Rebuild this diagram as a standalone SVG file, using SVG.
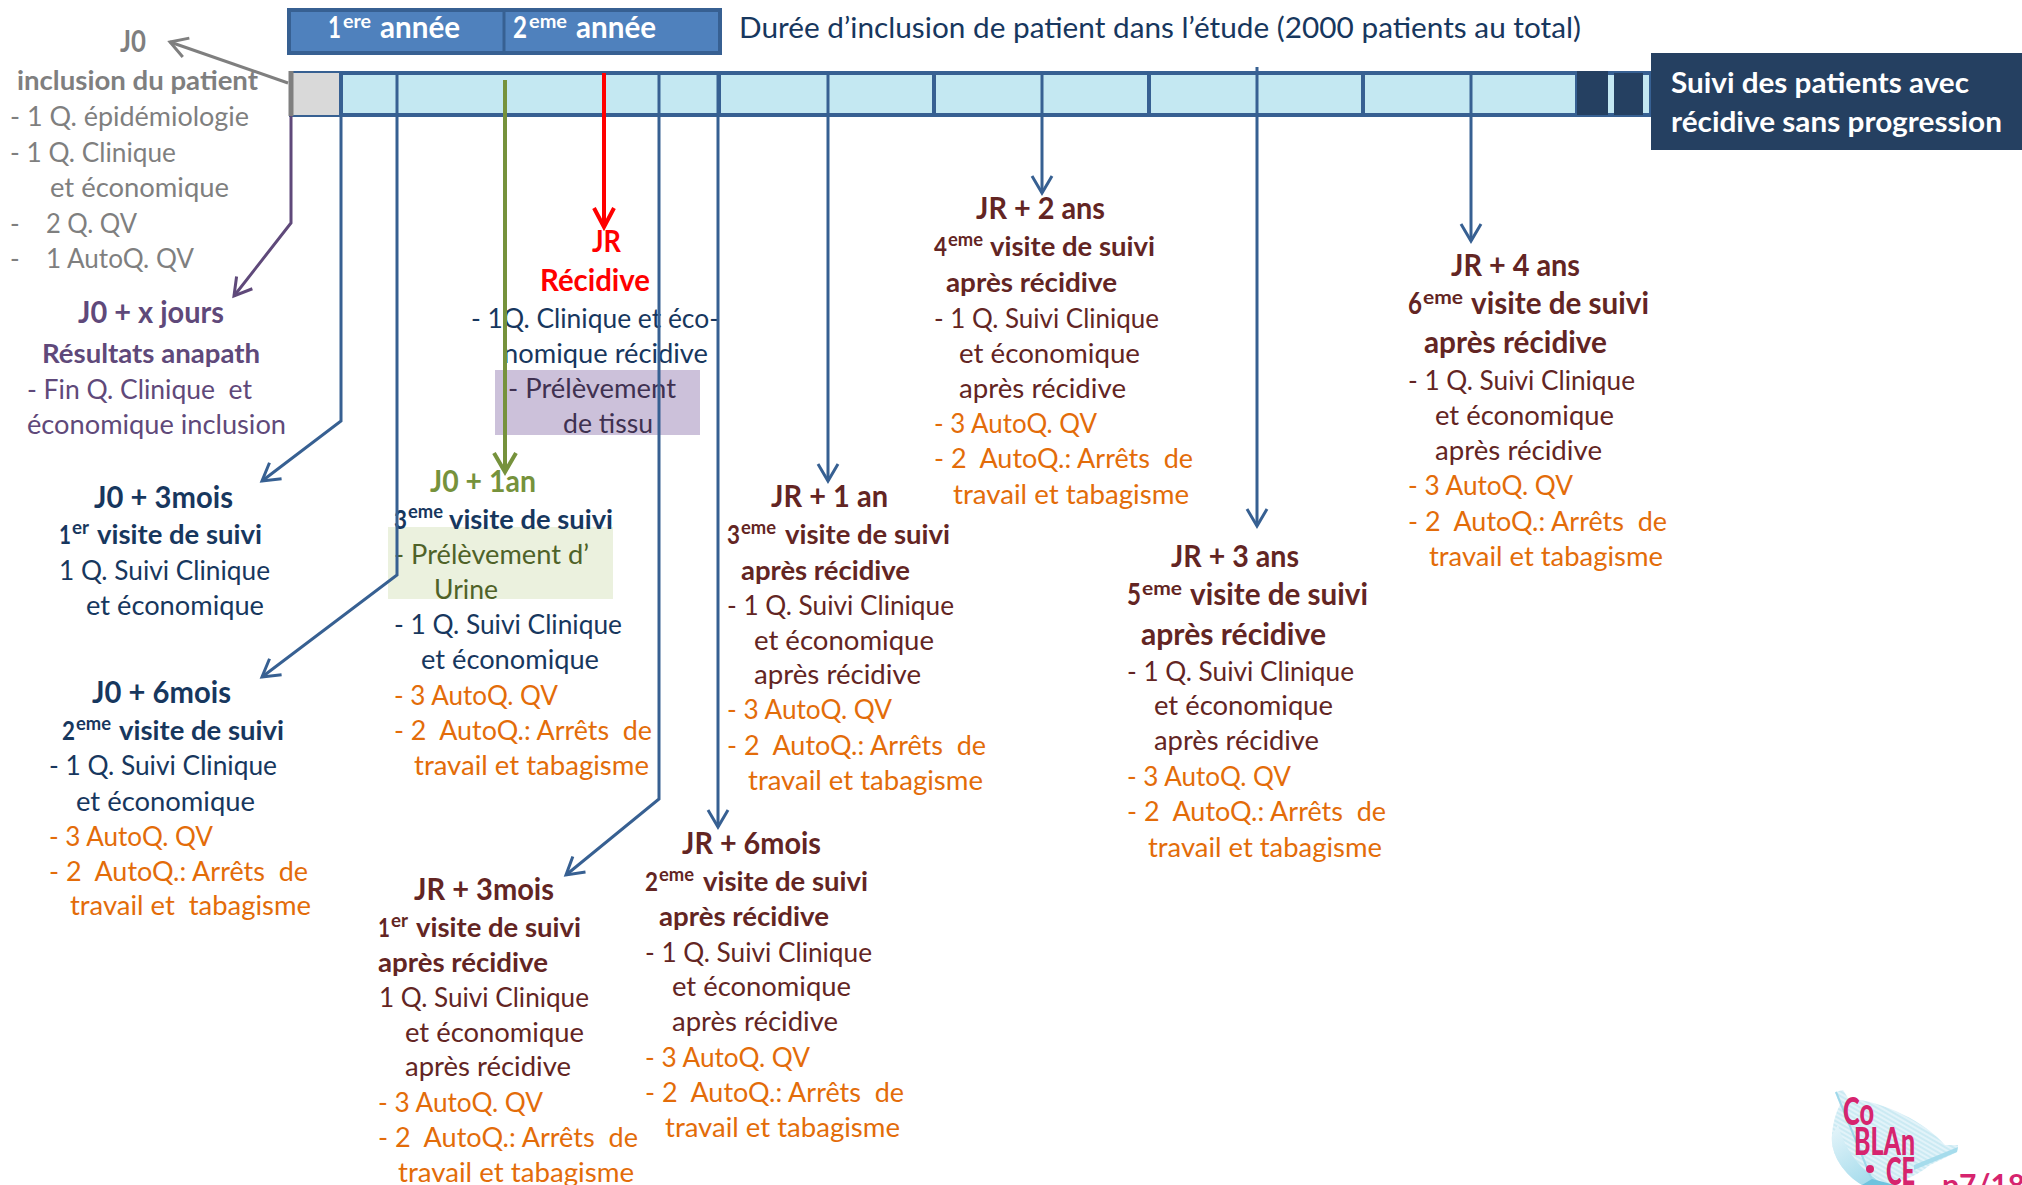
<svg xmlns="http://www.w3.org/2000/svg" width="2022" height="1185" viewBox="0 0 2022 1185">
<style>
text{font-family:Lato,"Open Sans","Liberation Sans",sans-serif;font-size:26px;white-space:pre;transform:translateY(1px)}
.b{font-weight:700}
.t{font-size:31px;font-weight:700;transform:translateY(0)}
.s{font-size:18px}
.sb{font-size:18px;font-weight:700}
.gy{fill:#7f7f7f}.pu{fill:#5f497a}.nv{fill:#17375e}.mr{fill:#632523}.or{fill:#e36c09}.rd{fill:#ff0000}.gn{fill:#76923c}.dg{fill:#4f6228}.dp{fill:#3f3151}.wh{fill:#ffffff}
.ln{fill:none;stroke:#376092;stroke-width:3}
.seg{fill:none;stroke:#376092;stroke-width:4}
.lg{font-size:38px;font-weight:900;fill:#d6246e;transform:none}
</style>
<defs>
<marker id="mb" markerUnits="userSpaceOnUse" viewBox="-20 -14 24 28" refX="0" refY="0" markerWidth="24" markerHeight="28" orient="auto"><path d="M-17,-10 L0,0 L-17,10" fill="none" stroke="#376092" stroke-width="3"/></marker>
<marker id="mr" markerUnits="userSpaceOnUse" viewBox="-20 -14 24 28" refX="0" refY="0" markerWidth="24" markerHeight="28" orient="auto"><path d="M-19,-10 L0,0 L-19,10" fill="none" stroke="#ff0000" stroke-width="4"/></marker>
<marker id="mg" markerUnits="userSpaceOnUse" viewBox="-20 -14 24 28" refX="0" refY="0" markerWidth="24" markerHeight="28" orient="auto"><path d="M-19,-11 L0,0 L-19,11" fill="none" stroke="#76923c" stroke-width="4"/></marker>
<marker id="my" markerUnits="userSpaceOnUse" viewBox="-20 -14 24 28" refX="0" refY="0" markerWidth="24" markerHeight="28" orient="auto"><path d="M-17,-10 L0,0 L-17,10" fill="none" stroke="#7f7f7f" stroke-width="3"/></marker>
<marker id="mp" markerUnits="userSpaceOnUse" viewBox="-20 -14 24 28" refX="0" refY="0" markerWidth="24" markerHeight="28" orient="auto"><path d="M-17,-10 L0,0 L-17,10" fill="none" stroke="#5f497a" stroke-width="3"/></marker>
<linearGradient id="lg" x1="0" y1="0" x2="0.6" y2="1"><stop offset="0" stop-color="#e6f5fa"/><stop offset="1" stop-color="#a6dcec"/></linearGradient>
<pattern id="hatch" width="4" height="4" patternUnits="userSpaceOnUse" patternTransform="rotate(30)"><rect width="4" height="4" fill="#e2f3f9"/><line x1="0" y1="1" x2="4" y2="1" stroke="#b5e1ee" stroke-width="1"/></pattern>
</defs>
<rect width="2022" height="1185" fill="#ffffff"/>

<g id="annees">
<rect x="289" y="10" width="431" height="43" fill="#4f81bd" stroke="#376092" stroke-width="4"/>
<line x1="504" y1="9" x2="504" y2="54" stroke="#376092" stroke-width="3"/>
<text class="t wh" x="328" y="38" textLength="13" lengthAdjust="spacingAndGlyphs">1</text>
<text class="sb wh" x="343" y="27" textLength="28" lengthAdjust="spacingAndGlyphs">ere</text>
<text class="t wh" x="380" y="38" textLength="80" lengthAdjust="spacingAndGlyphs">année</text>
<text class="t wh" x="513" y="38" textLength="14" lengthAdjust="spacingAndGlyphs">2</text>
<text class="sb wh" x="529" y="27" textLength="38" lengthAdjust="spacingAndGlyphs">eme</text>
<text class="t wh" x="576" y="38" textLength="80" lengthAdjust="spacingAndGlyphs">année</text>
</g>
<g id="titre"><text class="nv" x="739" y="37" style="font-size:28px" textLength="842" lengthAdjust="spacingAndGlyphs">Durée d’inclusion de patient dans l’étude (2000 patients au total)</text></g>

<g id="frise">
<rect x="291" y="73" width="1360" height="42" fill="#c4e8f2" stroke="#376092" stroke-width="4"/>
<rect x="291" y="73" width="50" height="42" fill="#d9d9d9"/>
<line x1="291" y1="71" x2="291" y2="116" stroke="#7f7f7f" stroke-width="5"/>
<path class="seg" d="M341,71V116M719,71V116M934,71V116M1149,71V116M1363,71V116M1577,71V116"/>
<rect x="1577" y="71" width="31" height="44" fill="#254061"/>
<rect x="1614" y="73" width="29" height="42" fill="#254061"/>
</g>
<g id="suivi">
<rect x="1651" y="53" width="371" height="97" fill="#254061"/>
<text class="b wh" x="1671" y="92" style="font-size:28px" textLength="298" lengthAdjust="spacingAndGlyphs">Suivi des patients avec</text>
<text class="b wh" x="1671" y="131" style="font-size:28px" textLength="331" lengthAdjust="spacingAndGlyphs">récidive sans progression</text>
</g>

<g id="j0">
<text class="t gy" x="120" y="52" textLength="26" lengthAdjust="spacingAndGlyphs">J0</text>
<text class="b gy" x="17" y="89" style="font-size:27px" textLength="241" lengthAdjust="spacingAndGlyphs">inclusion du patient</text>
<text class="gy" x="10" y="125" textLength="239" lengthAdjust="spacingAndGlyphs">- 1 Q. épidémiologie</text>
<text class="gy" x="10" y="161" textLength="166" lengthAdjust="spacingAndGlyphs">- 1 Q. Clinique</text>
<text class="gy" x="50" y="196" textLength="179" lengthAdjust="spacingAndGlyphs">et économique</text>
<text class="gy" x="10" y="232">-</text><text class="gy" x="46" y="232" textLength="91" lengthAdjust="spacingAndGlyphs">2 Q. QV</text>
<text class="gy" x="10" y="267">-</text><text class="gy" x="46" y="267" textLength="148" lengthAdjust="spacingAndGlyphs">1 AutoQ. QV</text>
</g>
<g id="j0-x-jours">
<text class="t pu" x="78" y="323" textLength="146" lengthAdjust="spacingAndGlyphs">J0 + x jours</text>
<text class="b pu" x="42" y="362" style="font-size:27px" textLength="218" lengthAdjust="spacingAndGlyphs">Résultats anapath</text>
<text class="pu" x="27" y="398" textLength="225" lengthAdjust="spacingAndGlyphs">- Fin Q. Clinique  et</text>
<text class="pu" x="27" y="433" textLength="259" lengthAdjust="spacingAndGlyphs">économique inclusion</text>
</g>
<g id="recidive">
<rect x="495" y="370" width="205" height="65" fill="#ccc1da"/>
<text class="t rd" x="592" y="252" textLength="29" lengthAdjust="spacingAndGlyphs">JR</text>
<text class="t rd" x="540" y="291" textLength="110" lengthAdjust="spacingAndGlyphs">Récidive</text>
<text class="nv" x="471" y="327" textLength="248" lengthAdjust="spacingAndGlyphs">- 1Q. Clinique et éco-</text>
<text class="nv" x="503" y="362" textLength="205" lengthAdjust="spacingAndGlyphs">nomique récidive</text>
<text class="dp" x="508" y="397" textLength="168" lengthAdjust="spacingAndGlyphs">- Prélèvement</text>
<text class="dp" x="563" y="432" textLength="90" lengthAdjust="spacingAndGlyphs">de tissu</text>
</g>
<g id="j0-3mois">
<text class="t nv" x="94" y="508" textLength="139" lengthAdjust="spacingAndGlyphs">J0 + 3mois</text>
<text class="b nv" x="59" y="543" textLength="12" lengthAdjust="spacingAndGlyphs">1</text><text class="sb nv" x="72" y="533" textLength="17" lengthAdjust="spacingAndGlyphs">er</text><text class="b nv" x="97" y="543" textLength="165" lengthAdjust="spacingAndGlyphs">visite de suivi</text>
<text class="nv" x="59" y="579" textLength="211" lengthAdjust="spacingAndGlyphs">1 Q. Suivi Clinique</text>
<text class="nv" x="86" y="614" textLength="178" lengthAdjust="spacingAndGlyphs">et économique</text>
</g>
<g id="j0-6mois">
<text class="t nv" x="92" y="703" textLength="139" lengthAdjust="spacingAndGlyphs">J0 + 6mois</text>
<text class="b nv" x="62" y="739" textLength="13" lengthAdjust="spacingAndGlyphs">2</text><text class="sb nv" x="76" y="729" textLength="35" lengthAdjust="spacingAndGlyphs">eme</text><text class="b nv" x="119" y="739" textLength="165" lengthAdjust="spacingAndGlyphs">visite de suivi</text>
<text class="nv" x="49" y="774" textLength="228" lengthAdjust="spacingAndGlyphs">- 1 Q. Suivi Clinique</text>
<text class="nv" x="76" y="810" textLength="179" lengthAdjust="spacingAndGlyphs">et économique</text>
<text class="or" x="49" y="845" textLength="164" lengthAdjust="spacingAndGlyphs">- 3 AutoQ. QV</text>
<text class="or" x="49" y="880" textLength="259" lengthAdjust="spacingAndGlyphs">- 2  AutoQ.: Arrêts  de</text>
<text class="or" x="70" y="914" textLength="241" lengthAdjust="spacingAndGlyphs">travail et  tabagisme</text>
</g>
<g id="j0-1an">
<rect x="388" y="527" width="225" height="72" fill="#ebf1de"/>
<text class="t gn" x="430" y="492" textLength="106" lengthAdjust="spacingAndGlyphs">J0 + 1an</text>
<text class="b nv" x="394" y="528" textLength="13" lengthAdjust="spacingAndGlyphs">3</text><text class="sb nv" x="408" y="517" textLength="35" lengthAdjust="spacingAndGlyphs">eme</text><text class="b nv" x="449" y="528" textLength="164" lengthAdjust="spacingAndGlyphs">visite de suivi</text>
<text class="dg" x="394" y="563" textLength="195" lengthAdjust="spacingAndGlyphs">- Prélèvement d’</text>
<text class="dg" x="434" y="598" textLength="64" lengthAdjust="spacingAndGlyphs">Urine</text>
<text class="nv" x="394" y="633" textLength="228" lengthAdjust="spacingAndGlyphs">- 1 Q. Suivi Clinique</text>
<text class="nv" x="421" y="668" textLength="178" lengthAdjust="spacingAndGlyphs">et économique</text>
<text class="or" x="394" y="704" textLength="164" lengthAdjust="spacingAndGlyphs">- 3 AutoQ. QV</text>
<text class="or" x="394" y="739" textLength="258" lengthAdjust="spacingAndGlyphs">- 2  AutoQ.: Arrêts  de</text>
<text class="or" x="414" y="774" textLength="235" lengthAdjust="spacingAndGlyphs">travail et tabagisme</text>
</g>
<g id="jr-3mois">
<text class="t mr" x="414" y="900" textLength="140" lengthAdjust="spacingAndGlyphs">JR + 3mois</text>
<text class="b mr" x="378" y="936" textLength="12" lengthAdjust="spacingAndGlyphs">1</text><text class="sb mr" x="391" y="926" textLength="17" lengthAdjust="spacingAndGlyphs">er</text><text class="b mr" x="416" y="936" textLength="165" lengthAdjust="spacingAndGlyphs">visite de suivi</text>
<text class="b mr" x="378" y="971" textLength="170" lengthAdjust="spacingAndGlyphs">après récidive</text>
<text class="mr" x="379" y="1006" textLength="210" lengthAdjust="spacingAndGlyphs">1 Q. Suivi Clinique</text>
<text class="mr" x="405" y="1041" textLength="179" lengthAdjust="spacingAndGlyphs">et économique</text>
<text class="mr" x="405" y="1075" textLength="166" lengthAdjust="spacingAndGlyphs">après récidive</text>
<text class="or" x="378" y="1111" textLength="165" lengthAdjust="spacingAndGlyphs">- 3 AutoQ. QV</text>
<text class="or" x="378" y="1146" textLength="260" lengthAdjust="spacingAndGlyphs">- 2  AutoQ.: Arrêts  de</text>
<text class="or" x="398" y="1181" textLength="236" lengthAdjust="spacingAndGlyphs">travail et tabagisme</text>
</g>
<g id="jr-6mois">
<text class="t mr" x="682" y="854" textLength="139" lengthAdjust="spacingAndGlyphs">JR + 6mois</text>
<text class="b mr" x="645" y="890" textLength="13" lengthAdjust="spacingAndGlyphs">2</text><text class="sb mr" x="659" y="880" textLength="35" lengthAdjust="spacingAndGlyphs">eme</text><text class="b mr" x="703" y="890" textLength="165" lengthAdjust="spacingAndGlyphs">visite de suivi</text>
<text class="b mr" x="659" y="925" textLength="170" lengthAdjust="spacingAndGlyphs">après récidive</text>
<text class="mr" x="645" y="961" textLength="227" lengthAdjust="spacingAndGlyphs">- 1 Q. Suivi Clinique</text>
<text class="mr" x="672" y="995" textLength="179" lengthAdjust="spacingAndGlyphs">et économique</text>
<text class="mr" x="672" y="1030" textLength="166" lengthAdjust="spacingAndGlyphs">après récidive</text>
<text class="or" x="645" y="1066" textLength="165" lengthAdjust="spacingAndGlyphs">- 3 AutoQ. QV</text>
<text class="or" x="645" y="1101" textLength="259" lengthAdjust="spacingAndGlyphs">- 2  AutoQ.: Arrêts  de</text>
<text class="or" x="665" y="1136" textLength="235" lengthAdjust="spacingAndGlyphs">travail et tabagisme</text>
</g>
<g id="jr-1an">
<text class="t mr" x="771" y="507" textLength="117" lengthAdjust="spacingAndGlyphs">JR + 1 an</text>
<text class="b mr" x="727" y="543" textLength="13" lengthAdjust="spacingAndGlyphs">3</text><text class="sb mr" x="741" y="533" textLength="35" lengthAdjust="spacingAndGlyphs">eme</text><text class="b mr" x="785" y="543" textLength="165" lengthAdjust="spacingAndGlyphs">visite de suivi</text>
<text class="b mr" x="741" y="579" textLength="169" lengthAdjust="spacingAndGlyphs">après récidive</text>
<text class="mr" x="727" y="614" textLength="227" lengthAdjust="spacingAndGlyphs">- 1 Q. Suivi Clinique</text>
<text class="mr" x="754" y="649" textLength="180" lengthAdjust="spacingAndGlyphs">et économique</text>
<text class="mr" x="754" y="683" textLength="167" lengthAdjust="spacingAndGlyphs">après récidive</text>
<text class="or" x="727" y="718" textLength="165" lengthAdjust="spacingAndGlyphs">- 3 AutoQ. QV</text>
<text class="or" x="727" y="754" textLength="259" lengthAdjust="spacingAndGlyphs">- 2  AutoQ.: Arrêts  de</text>
<text class="or" x="748" y="789" textLength="235" lengthAdjust="spacingAndGlyphs">travail et tabagisme</text>
</g>
<g id="jr-2ans">
<text class="t mr" x="976" y="219" textLength="129" lengthAdjust="spacingAndGlyphs">JR + 2 ans</text>
<text class="b mr" x="934" y="255" textLength="13" lengthAdjust="spacingAndGlyphs">4</text><text class="sb mr" x="948" y="245" textLength="35" lengthAdjust="spacingAndGlyphs">eme</text><text class="b mr" x="990" y="255" textLength="165" lengthAdjust="spacingAndGlyphs">visite de suivi</text>
<text class="b mr" x="946" y="291" textLength="171" lengthAdjust="spacingAndGlyphs">après récidive</text>
<text class="mr" x="934" y="327" textLength="225" lengthAdjust="spacingAndGlyphs">- 1 Q. Suivi Clinique</text>
<text class="mr" x="959" y="362" textLength="181" lengthAdjust="spacingAndGlyphs">et économique</text>
<text class="mr" x="959" y="397" textLength="167" lengthAdjust="spacingAndGlyphs">après récidive</text>
<text class="or" x="934" y="432" textLength="163" lengthAdjust="spacingAndGlyphs">- 3 AutoQ. QV</text>
<text class="or" x="934" y="467" textLength="259" lengthAdjust="spacingAndGlyphs">- 2  AutoQ.: Arrêts  de</text>
<text class="or" x="953" y="503" textLength="236" lengthAdjust="spacingAndGlyphs">travail et tabagisme</text>
</g>
<g id="jr-3ans">
<text class="t mr" x="1171" y="567" textLength="128" lengthAdjust="spacingAndGlyphs">JR + 3 ans</text>
<text class="t mr" x="1127" y="605" textLength="14" lengthAdjust="spacingAndGlyphs">5</text><text class="sb mr" x="1142" y="594" textLength="40" lengthAdjust="spacingAndGlyphs">eme</text><text class="t mr" x="1190" y="605" textLength="178" lengthAdjust="spacingAndGlyphs">visite de suivi</text>
<text class="t mr" x="1141" y="645" textLength="185" lengthAdjust="spacingAndGlyphs">après récidive</text>
<text class="mr" x="1127" y="680" textLength="227" lengthAdjust="spacingAndGlyphs">- 1 Q. Suivi Clinique</text>
<text class="mr" x="1154" y="714" textLength="179" lengthAdjust="spacingAndGlyphs">et économique</text>
<text class="mr" x="1154" y="749" textLength="165" lengthAdjust="spacingAndGlyphs">après récidive</text>
<text class="or" x="1127" y="785" textLength="164" lengthAdjust="spacingAndGlyphs">- 3 AutoQ. QV</text>
<text class="or" x="1127" y="820" textLength="259" lengthAdjust="spacingAndGlyphs">- 2  AutoQ.: Arrêts  de</text>
<text class="or" x="1148" y="856" textLength="234" lengthAdjust="spacingAndGlyphs">travail et tabagisme</text>
</g>
<g id="jr-4ans">
<text class="t mr" x="1451" y="276" textLength="129" lengthAdjust="spacingAndGlyphs">JR + 4 ans</text>
<text class="t mr" x="1408" y="314" textLength="14" lengthAdjust="spacingAndGlyphs">6</text><text class="sb mr" x="1423" y="303" textLength="40" lengthAdjust="spacingAndGlyphs">eme</text><text class="t mr" x="1471" y="314" textLength="178" lengthAdjust="spacingAndGlyphs">visite de suivi</text>
<text class="t mr" x="1424" y="353" textLength="183" lengthAdjust="spacingAndGlyphs">après récidive</text>
<text class="mr" x="1408" y="389" textLength="227" lengthAdjust="spacingAndGlyphs">- 1 Q. Suivi Clinique</text>
<text class="mr" x="1435" y="424" textLength="179" lengthAdjust="spacingAndGlyphs">et économique</text>
<text class="mr" x="1435" y="459" textLength="167" lengthAdjust="spacingAndGlyphs">après récidive</text>
<text class="or" x="1408" y="494" textLength="165" lengthAdjust="spacingAndGlyphs">- 3 AutoQ. QV</text>
<text class="or" x="1408" y="530" textLength="259" lengthAdjust="spacingAndGlyphs">- 2  AutoQ.: Arrêts  de</text>
<text class="or" x="1429" y="565" textLength="234" lengthAdjust="spacingAndGlyphs">travail et tabagisme</text>
</g>

<g id="connecteurs">
<polyline points="288,83 170,42" fill="none" stroke="#7f7f7f" stroke-width="3" marker-end="url(#my)"/>
<polyline points="291,116 291,223 234,296" fill="none" stroke="#5f497a" stroke-width="3" marker-end="url(#mp)"/>
<polyline class="ln" points="341,116 341,421 262,481" marker-end="url(#mb)"/>
<polyline class="ln" points="397,73 397,575 262,677" marker-end="url(#mb)"/>
<polyline points="604,73 604,227" fill="none" stroke="#ff0000" stroke-width="4" marker-end="url(#mr)"/>
<polyline points="505,80 505,472" fill="none" stroke="#76923c" stroke-width="4" marker-end="url(#mg)"/>
<polyline class="ln" points="659,73 659,799 566,875" marker-end="url(#mb)"/>
<polyline class="ln" points="718,73 718,827" marker-end="url(#mb)"/>
<polyline class="ln" points="828,73 828,481" marker-end="url(#mb)"/>
<polyline class="ln" points="1042,73 1042,193" marker-end="url(#mb)"/>
<polyline class="ln" points="1257,67 1257,526" marker-end="url(#mb)"/>
<polyline class="ln" points="1471,73 1471,241" marker-end="url(#mb)"/>
</g>

<g id="logo">
<path d="M1835,1092 L1843,1090 L1848,1098 C1885,1102 1925,1122 1945,1145 L1958,1145 L1957,1152 L1930,1165 C1915,1178 1895,1185 1870,1185 L1862,1185 C1845,1175 1830,1155 1832,1135 C1833,1122 1836,1112 1840,1105 Z" fill="url(#hatch)"/>
<path d="M1832,1135 C1830,1155 1845,1175 1862,1185 L1885,1185 C1860,1170 1845,1150 1838,1125 Z" fill="url(#lg)"/>
<path d="M1836,1092 L1872,1180" fill="none" stroke="#9fd8ea" stroke-width="2"/>
<path d="M1914,1165 L1958,1147 L1957,1152 L1914,1170 Z" fill="#a6dcec"/>
<path d="M1862,1185 L1872,1179 L1895,1185 Z" fill="#6fc3de"/>
<text class="lg" x="1843" y="1125" textLength="31" lengthAdjust="spacingAndGlyphs">Co</text>
<text class="lg" x="1854" y="1155" textLength="61" lengthAdjust="spacingAndGlyphs">BLAn</text>
<text class="lg" x="1886" y="1185" textLength="29" lengthAdjust="spacingAndGlyphs">CE</text>
<circle cx="1870" cy="1169" r="4" fill="#d6246e"/>
</g>
<text id="page" x="1942" y="1196" class="b" style="font-size:30px;fill:#d6246e;transform:none">p7/18</text>
</svg>
